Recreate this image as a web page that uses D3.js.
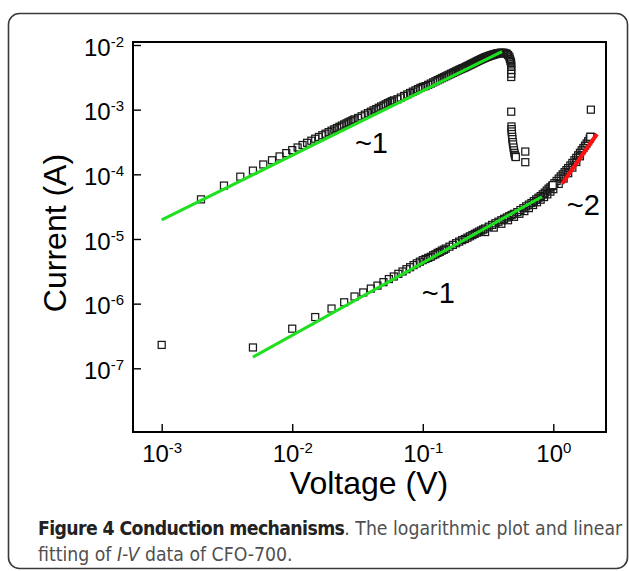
<!DOCTYPE html>
<html>
<head>
<meta charset="utf-8">
<script src="https://cdn.jsdelivr.net/npm/d3@7"></script>
<style>
  html, body { margin: 0; padding: 0; background: #fff; }
  svg { display: block; }
</style>
</head>
<body>
<svg id="chart" width="629" height="571"></svg>
<script>
// up-sweep, low resistance state (V, A)
const upV = [0.002, 0.003, 0.004, 0.005, 0.006, 0.007, 0.008, 0.009, 0.010, 0.011, 0.012, 0.013, 0.014, 0.015,
  0.016, 0.017, 0.018, 0.019, 0.020, 0.021, 0.022, 0.023, 0.024, 0.025, 0.026, 0.027, 0.028, 0.029, 0.030,
  0.032, 0.034, 0.036, 0.038, 0.040, 0.042, 0.044, 0.046, 0.048, 0.050, 0.052, 0.054, 0.056, 0.058, 0.060,
  0.064, 0.068, 0.072, 0.076, 0.080, 0.084, 0.088, 0.092, 0.096, 0.100,
  0.105, 0.110, 0.115, 0.120, 0.125, 0.130, 0.135, 0.140, 0.145, 0.150, 0.155, 0.160, 0.165, 0.170, 0.175,
  0.180, 0.185, 0.190, 0.195, 0.200, 0.205, 0.210, 0.215, 0.220, 0.225, 0.230, 0.235, 0.240, 0.245, 0.250,
  0.255, 0.260, 0.265, 0.270, 0.275, 0.280, 0.285, 0.290, 0.295, 0.300, 0.305, 0.310, 0.315, 0.320, 0.325,
  0.330, 0.335, 0.340, 0.345, 0.350, 0.355, 0.360, 0.365, 0.370, 0.375, 0.380, 0.385, 0.390, 0.395, 0.400,
  0.410, 0.420, 0.430, 0.440, 0.450, 0.460, 0.465, 0.470, 0.474, 0.476, 0.476, 0.476, 0.476, 0.476];
const upI = [4.1e-5, 6.7e-5, 9.2e-5, 1.14e-4, 1.42e-4, 1.65e-4, 1.89e-4, 2.13e-4, 2.37e-4, 2.6e-4, 2.84e-4, 3.07e-4, 3.31e-4, 3.55e-4,
  3.78e-4, 4.02e-4, 4.25e-4, 4.49e-4, 4.73e-4, 4.96e-4, 5.2e-4, 5.44e-4, 5.67e-4, 5.91e-4, 6.14e-4, 6.38e-4, 6.6e-4, 6.84e-4, 7.07e-4,
  7.44e-4, 7.9e-4, 8.37e-4, 8.84e-4, 9.3e-4, 9.77e-4, 1.02e-3, 1.07e-3, 1.12e-3, 1.16e-3, 1.21e-3, 1.26e-3, 1.3e-3, 1.35e-3, 1.39e-3,
  1.45e-3, 1.54e-3, 1.63e-3, 1.72e-3, 1.81e-3, 1.9e-3, 1.99e-3, 2.08e-3, 2.17e-3, 2.25e-3,
  2.31e-3, 2.42e-3, 2.53e-3, 2.64e-3, 2.75e-3, 2.86e-3, 2.96e-3, 3.07e-3, 3.18e-3, 3.28e-3, 3.39e-3, 3.49e-3, 3.6e-3, 3.7e-3, 3.81e-3,
  3.91e-3, 4.02e-3, 4.12e-3, 4.22e-3, 4.33e-3, 4.4e-3, 4.51e-3, 4.62e-3, 4.72e-3, 4.83e-3, 4.94e-3, 5.04e-3, 5.15e-3, 5.26e-3, 5.37e-3,
  5.47e-3, 5.58e-3, 5.69e-3, 5.79e-3, 5.9e-3, 6.0e-3, 6.1e-3, 6.2e-3, 6.3e-3, 6.4e-3, 6.48e-3, 6.56e-3, 6.64e-3, 6.72e-3, 6.8e-3,
  6.87e-3, 6.94e-3, 7.0e-3, 7.07e-3, 7.13e-3, 7.19e-3, 7.25e-3, 7.3e-3, 7.35e-3, 7.4e-3, 7.44e-3, 7.48e-3, 7.52e-3, 7.55e-3, 7.58e-3,
  7.6e-3, 7.55e-3, 7.45e-3, 7.3e-3, 7.0e-3, 6.6e-3, 6.1e-3, 5.7e-3, 5.4e-3, 5.0e-3, 4.6e-3, 4.1e-3, 3.6e-3, 3.2e-3];

// reset drop
const dropV = [0.476, 0.478, 0.479, 0.480, 0.482, 0.484, 0.486, 0.489, 0.492, 0.496, 0.500, 0.504, 0.508, 0.512, 0.516, 0.610, 0.610];
const dropI = [9.3e-4, 5.5e-4, 5.0e-4, 4.6e-4, 4.2e-4, 3.8e-4, 3.5e-4, 3.15e-4, 2.9e-4, 2.6e-4, 2.35e-4, 2.15e-4, 2.0e-4, 1.9e-4, 1.85e-4, 2.25e-4, 1.54e-4];

// high resistance state sweep
const lowV = [0.001, 0.005, 0.010, 0.015, 0.020, 0.025, 0.030, 0.035, 0.040, 0.045, 0.050, 0.055, 0.060, 0.065, 0.070, 0.075,
  0.080, 0.085, 0.090, 0.095, 0.100, 0.105, 0.110, 0.115, 0.120, 0.125, 0.130, 0.135, 0.140, 0.145, 0.150, 0.160,
  0.170, 0.180, 0.190, 0.200, 0.210, 0.220, 0.230, 0.240, 0.250, 0.260, 0.270, 0.280, 0.290, 0.300, 0.320, 0.340,
  0.360, 0.380, 0.400, 0.420, 0.440, 0.460, 0.480, 0.500, 0.530, 0.560, 0.590, 0.620, 0.650, 0.680, 0.710, 0.740,
  0.770, 0.800, 0.830, 0.860, 0.890, 0.920, 0.950, 0.980, 1.02, 1.06, 1.10, 1.14, 1.18, 1.22, 1.26, 1.30, 1.35,
  1.40, 1.45, 1.50, 1.55, 1.60, 1.65, 1.70, 1.75, 1.80, 1.85, 1.90, 1.94];
const lowI = [2.3e-7, 2.1e-7, 4.1e-7, 6.2e-7, 8.4e-7, 1.05e-6, 1.29e-6, 1.49e-6, 1.71e-6, 1.9e-6, 2.15e-6, 2.4e-6, 2.63e-6, 2.89e-6, 3.14e-6, 3.41e-6,
  3.66e-6, 3.94e-6, 4.2e-6, 4.45e-6, 4.7e-6, 4.9e-6, 5.1e-6, 5.3e-6, 5.6e-6, 5.8e-6, 6.1e-6, 6.3e-6, 6.6e-6, 6.8e-6, 7.1e-6, 7.6e-6,
  8.1e-6, 8.6e-6, 9.1e-6, 9.6e-6, 1.0e-5, 1.05e-5, 1.1e-5, 1.15e-5, 1.2e-5, 1.25e-5, 1.3e-5, 1.35e-5, 1.4e-5, 1.45e-5, 1.55e-5, 1.65e-5,
  1.75e-5, 1.85e-5, 1.95e-5, 2.05e-5, 2.15e-5, 2.25e-5, 2.35e-5, 2.45e-5, 2.6e-5, 2.8e-5, 3.0e-5, 3.2e-5, 3.4e-5, 3.6e-5, 3.85e-5, 4.1e-5,
  4.35e-5, 4.6e-5, 4.9e-5, 5.2e-5, 5.6e-5, 6.0e-5, 6.3e-5, 6.6e-5, 7.3e-5, 7.9e-5, 8.6e-5, 9.3e-5, 1.0e-4, 1.08e-4, 1.16e-4, 1.25e-4, 1.37e-4,
  1.5e-4, 1.65e-4, 1.8e-4, 1.97e-4, 2.15e-4, 2.35e-4, 2.55e-4, 2.77e-4, 3.0e-4, 3.25e-4, 3.55e-4, 3.8e-4];

// return sweep, slightly below
const backV = [1.60, 1.50, 1.40, 1.30, 1.20, 1.10, 1.00, 0.95, 0.90, 0.85, 0.80, 0.75, 0.70, 0.65, 0.60, 0.55, 0.50, 0.45, 0.40, 0.35, 0.30];
const backI = [1.9e-4, 1.55e-4, 1.27e-4, 1.04e-4, 8.6e-5, 7.1e-5, 5.9e-5, 5.4e-5, 4.9e-5, 4.45e-5, 4.05e-5, 3.7e-5, 3.35e-5, 3.0e-5, 2.7e-5, 2.45e-5, 2.2e-5, 1.95e-5, 1.72e-5, 1.5e-5, 1.28e-5];

// isolated squares drawn last, white filled
const lateV = [0.99, 1.92, 1.94];
const lateI = [6.8e-5, 3.8e-4, 1.0e-3];

// linear fits on log-log
const fits = [
  { name: 'upper', color: '#1fe01f', width: 3, v: [0.001, 0.404], i: [1.97e-5, 7.9e-3] },
  { name: 'lower', color: '#1fe01f', width: 3, v: [0.005, 0.818], i: [1.49e-7, 4.5e-5] },
  { name: 'sclc', color: '#ff1010', width: 4, v: [1.17, 2.16], i: [7.2e-5, 4.2e-4] }
];

const slopeLabels = ['~1', '~1', '~2'];
const slopeAt = [[0.0302, 2.14e-4], [0.0984, 1.02e-6], [1.269, 2.35e-5]];

const xMajor = [1e-3, 1e-2, 1e-1, 1];
const xExp = ['-3', '-2', '-1', '0'];
const yMajor = [1e-2, 1e-3, 1e-4, 1e-5, 1e-6, 1e-7];
const yExp = ['-2', '-3', '-4', '-5', '-6', '-7'];

const svg = d3.select('#chart');
const frame = { left: 133, right: 606, top: 42, bottom: 432 };

const x = d3.scaleLog().domain([1e-3, 1]).range([161.7, 553.3]);
const y = d3.scaleLog().domain([1e-2, 1e-7]).range([45, 368.3]);

// outer figure box
svg.append('rect')
  .attr('x', 8.5).attr('y', 13.5)
  .attr('width', 619).attr('height', 555)
  .attr('rx', 11)
  .attr('fill', 'none').attr('stroke', '#3a3a3a').attr('stroke-width', 1.6);

// minor ticks across the visible range
const xMinor = x.copy().domain([x.invert(frame.left), x.invert(frame.right)]).ticks()
  .filter(d => !xMajor.some(m => Math.abs(m - d) / m < 1e-6));
const yMinor = y.copy().domain([y.invert(frame.top), y.invert(frame.bottom)]).ticks()
  .filter(d => !yMajor.some(m => Math.abs(m - d) / m < 1e-6));

const tickFont = "'Liberation Sans', Arial, sans-serif";

const gx = svg.append('g').attr('transform', `translate(0,${frame.bottom})`);
gx.call(d3.axisBottom(x).tickValues(xMinor).tickSize(-4).tickFormat(''));
gx.call(d3.axisBottom(x).tickValues(xMajor).tickSize(-8).tickPadding(13));
gx.selectAll('.domain').remove();

const gy = svg.append('g').attr('transform', `translate(${frame.left},0)`);
gy.call(d3.axisLeft(y).tickValues(yMinor).tickSize(-4).tickFormat(''));
gy.call(d3.axisLeft(y).tickValues(yMajor).tickSize(-8).tickPadding(9));
gy.selectAll('.domain').remove();

svg.selectAll('.tick line').attr('stroke', '#000').attr('stroke-width', 1.4);

function powerLabel(sel, exps, values) {
  sel.selectAll('.tick text').each(function (d) {
    const t = d3.select(this);
    const k = values.findIndex(m => Math.abs(m - d) / m < 1e-6);
    t.text(null)
      .attr('fill', '#000')
      .style('font-family', tickFont)
      .style('font-size', '24px');
    t.append('tspan').text('10');
    t.append('tspan').attr('dy', -9).style('font-size', '15px').text(exps[k]);
  });
}
powerLabel(gx, xExp, xMajor);
powerLabel(gy, yExp, yMajor);
gx.selectAll('.tick text').attr('dy', '0.71em');
gy.selectAll('.tick text').attr('dy', '0.42em');

// data squares: open outlines for the dense sweeps
const zipped = (vs, is) => vs.map((v, k) => ({ v, i: is[k] }));
const series = [
  { data: zipped(upV, upI), fill: 'none' },
  { data: zipped(dropV, dropI), fill: '#fff' },
  { data: zipped(lowV, lowI), fill: 'none' },
  { data: zipped(backV, backI), fill: 'none' },
  { data: zipped(lateV, lateI), fill: '#fff' }
];
const s = 7;
const pts = svg.append('g');
series.forEach(ser => {
  pts.append('g').selectAll('rect').data(ser.data).join('rect')
    .attr('x', d => x(d.v) - s / 2)
    .attr('y', d => y(d.i) - s / 2)
    .attr('width', s).attr('height', s)
    .attr('fill', ser.fill)
    .attr('stroke', '#1a1a1a')
    .attr('stroke-width', 1.25);
});

// fitted lines
const line = d3.line().x(d => x(d[0])).y(d => y(d[1]));
fits.forEach(f => {
  svg.append('path')
    .attr('d', line(f.v.map((v, k) => [v, f.i[k]])))
    .attr('fill', 'none')
    .attr('stroke', f.color)
    .attr('stroke-width', f.width);
});

// slope annotations
slopeLabels.forEach((lab, k) => {
  svg.append('text')
    .attr('x', x(slopeAt[k][0]))
    .attr('y', y(slopeAt[k][1]))
    .style('font-family', tickFont)
    .style('font-size', '29px')
    .attr('fill', '#000')
    .text(lab);
});

// plot frame
svg.append('rect')
  .attr('x', frame.left).attr('y', frame.top)
  .attr('width', frame.right - frame.left).attr('height', frame.bottom - frame.top)
  .attr('fill', 'none').attr('stroke', '#000').attr('stroke-width', 2);

// axis titles
svg.append('text')
  .attr('x', 369).attr('y', 494)
  .attr('text-anchor', 'middle')
  .style('font-family', tickFont).style('font-size', '32px')
  .text('Voltage (V)');

svg.append('text')
  .attr('transform', 'translate(66,233) rotate(-90)')
  .attr('text-anchor', 'middle')
  .style('font-family', tickFont).style('font-size', '32px')
  .text('Current (A)');

// caption
const capFont = "'Liberation Sans Narrow', 'Arial Narrow', 'DejaVu Sans Condensed', sans-serif";
const cap1 = svg.append('text')
  .attr('x', 38).attr('y', 535)
  .style('font-family', capFont)
  .style('font-size', '20px');
const capBold = cap1.append('tspan').attr('font-weight', 'bold').attr('fill', '#222')
  .style('letter-spacing', '-0.6px')
  .text('Figure 4 Conduction mechanisms');
cap1.append('tspan').attr('fill', '#505050')
  .text('. The logarithmic plot and linear');

const cap2 = svg.append('text')
  .attr('x', 38).attr('y', 561)
  .attr('fill', '#505050')
  .style('font-family', capFont);
cap2.append('tspan').text('fitting of ');
cap2.append('tspan').attr('font-style', 'italic').text('I-V');
cap2.append('tspan').text(' data of CFO-700.');

// one size for the caption so line one spans the box width
let fs = 20;
for (let k = 0; k < 3; k++) {
  const w = cap1.node().getComputedTextLength();
  fs = fs * 584 / w;
  cap1.style('font-size', fs + 'px');
}
cap2.style('font-size', fs + 'px');
</script>
</body>
</html>
